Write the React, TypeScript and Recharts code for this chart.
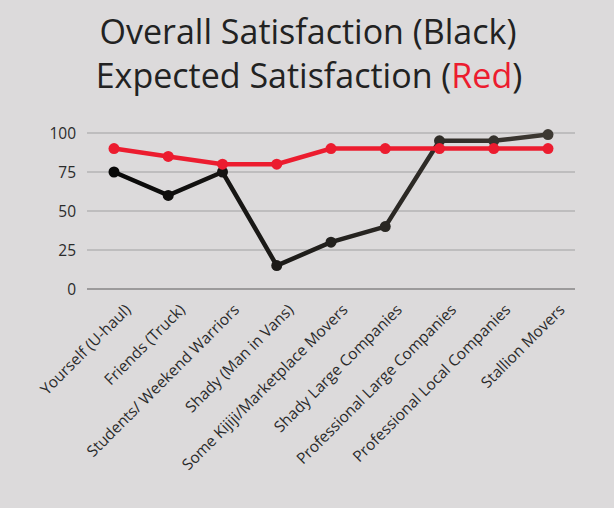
import React from "react";
import {
  LineChart,
  Line,
  XAxis,
  YAxis,
  CartesianGrid,
  ReferenceLine,
} from "recharts";

const categories = [
  "Yourself (U-haul)",
  "Friends (Truck)",
  "Students/ Weekend Warriors",
  "Shady (Man in Vans)",
  "Some Kijiji/Marketplace Movers",
  "Shady Large Companies",
  "Professional Large Companies",
  "Professional Local Companies",
  "Stallion Movers",
];

const overall = [75, 60, 75, 15, 30, 40, 95, 95, 99];
const expected = [90, 85, 80, 80, 90, 90, 90, 90, 90];
const yTicks = [0, 25, 50, 75, 100];

const data = categories.map((name, i) => ({
  name,
  overall: overall[i],
  expected: expected[i],
}));

const FONT = "'Open Sans', sans-serif";
const RED = "#ec1c2f";
const BG = "#dcdadb";

// black line fades from near black to a warm dark grey, left to right
const blackAt = (i: number) => {
  const t = i / (categories.length - 1);
  const a = [8, 8, 8];
  const b = [61, 57, 51];
  const c = a.map((v, k) => Math.round(v + (b[k] - v) * t));
  return `rgb(${c[0]},${c[1]},${c[2]})`;
};

const BlackDot = (props: any) => {
  const { cx, cy, index } = props;
  if (cx == null || cy == null) return null;
  return <circle cx={cx} cy={cy} r={5.5} fill={blackAt(index)} />;
};

const SlantTick = ({ x, y, payload }: any) => (
  <text
    x={x + 10}
    y={y + 6}
    dy="0.71em"
    textAnchor="end"
    fontFamily={FONT}
    fontSize={15.5}
    fill="#2b2b2b"
    transform={`rotate(-45, ${x + 10}, ${y + 6})`}
  >
    {payload.value}
  </text>
);

export default function App() {
  return (
    <div
      style={{
        position: "fixed",
        left: 0,
        top: 0,
        width: 614,
        height: 508,
        background: BG,
      }}
    >
      <style>{`html,body{margin:0;background:${BG};}`}</style>
      <svg
        width={614}
        height={110}
        style={{ position: "absolute", left: 0, top: 0 }}
      >
        <text
          x={308}
          y={44}
          textAnchor="middle"
          fontFamily={FONT}
          fontSize={34}
          fill="#222"
        >
          Overall Satisfaction (Black)
        </text>
        <text
          x={309}
          y={88}
          textAnchor="middle"
          fontFamily={FONT}
          fontSize={34}
          fill="#222"
        >
          Expected Satisfaction (<tspan fill={RED}>Red</tspan>)
        </text>
      </svg>
      <LineChart
        width={614}
        height={508}
        data={data}
        margin={{ top: 133, right: 39, bottom: 189, left: 0 }}
        style={{ position: "absolute", left: 0, top: 0 }}
      >
        <defs>
          <linearGradient id="blackFade" x1="0" y1="0" x2="1" y2="0">
            <stop offset="0%" stopColor={blackAt(0)} />
            <stop offset="100%" stopColor={blackAt(categories.length - 1)} />
          </linearGradient>
        </defs>
        <CartesianGrid vertical={false} stroke="#b5b3b4" strokeWidth={1.5} />
        <XAxis
          dataKey="name"
          height={30}
          interval={0}
          axisLine={false}
          tickLine={false}
          padding={{ left: 27, right: 27 }}
          tick={<SlantTick />}
        />
        <YAxis
          width={87}
          domain={[0, 100]}
          ticks={yTicks}
          axisLine={false}
          tickLine={false}
          tickMargin={5}
          tick={{ fontFamily: FONT, fontSize: 15.5, fill: "#2b2b2b" }}
        />
        <ReferenceLine y={0} stroke="#9c9a9b" strokeWidth={2} />
        <Line
          dataKey="overall"
          stroke="url(#blackFade)"
          strokeWidth={4.5}
          dot={<BlackDot />}
          activeDot={false}
          isAnimationActive={false}
        />
        <Line
          dataKey="expected"
          stroke={RED}
          strokeWidth={4.5}
          dot={{ r: 5.5, fill: RED, stroke: "none" }}
          activeDot={false}
          isAnimationActive={false}
        />
      </LineChart>
    </div>
  );
}
